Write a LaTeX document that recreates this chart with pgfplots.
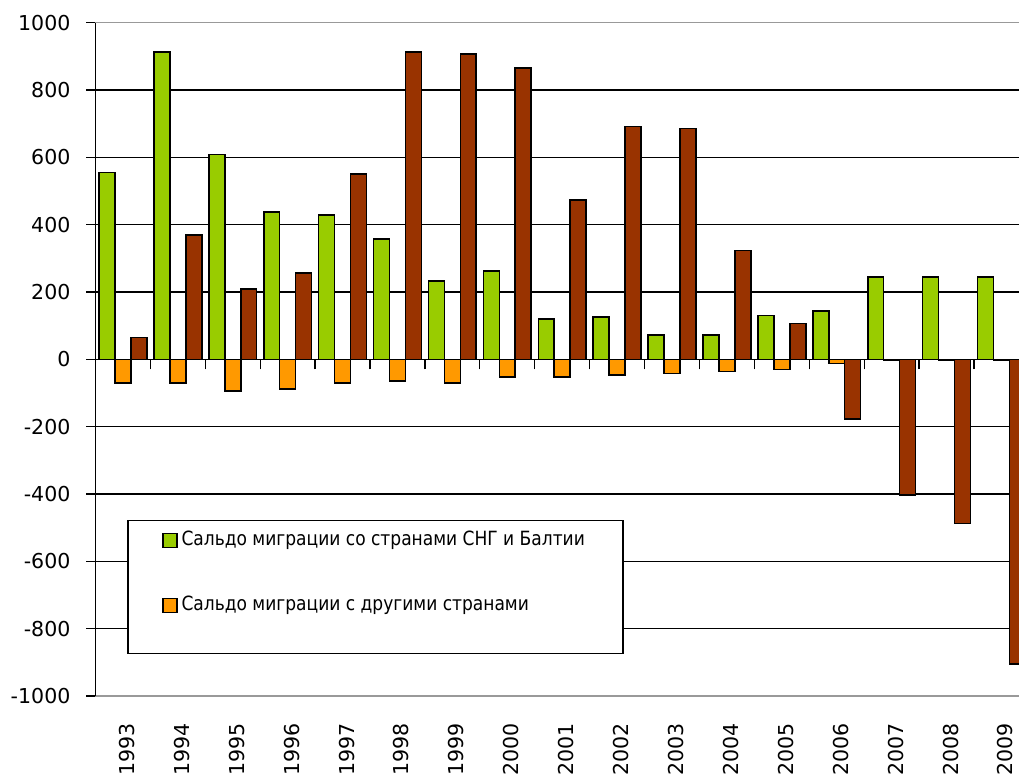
\documentclass[border=0pt]{standalone}
\usepackage{fontspec}
\setmainfont{DejaVu Sans}
\newfontfamily\legfont[FakeStretch=0.87]{DejaVu Sans}
\usepackage{pgfplots}
\pgfplotsset{compat=1.18}
\definecolor{cgreen}{HTML}{99CC00}
\definecolor{corange}{HTML}{FF9900}
\definecolor{cbrown}{HTML}{993300}
\pgfplotsset{
  mylegend/.style={legend image code/.code={\draw[##1, line width=1pt, draw=black] (0pt,-5.25pt) rectangle (10.5pt,5.25pt);}}
}
\begin{document}
\begin{tikzpicture}
\begin{axis}[
  scale only axis, width=692.6pt, height=505pt,
  xmin=-0.5, xmax=16.32, ymin=-1000, ymax=1000,
  axis x line=box, axis y line=left,
  axis line style={-},
  x axis line style={draw=black!40, line width=1pt},
  y axis line style={draw=black, line width=1pt},
  ytick={-1000,-800,-600,-400,-200,0,200,400,600,800,1000},
  yticklabels={-1000,-800,-600,-400,-200,0,200,400,600,800,1000},
  ymajorgrids, grid style={black, line width=1pt},
  tick align=outside, major tick length=6.75pt,
  ytick style={draw=black, line width=1pt},
  xtick pos=left,
  xtick={0,1,2,3,4,5,6,7,8,9,10,11,12,13,14,15,16},
  xticklabels={1993,1994,1995,1996,1997,1998,1999,2000,2001,2002,2003,2004,2005,2006,2007,2008,2009},
  xtick style={draw=none},
  xticklabel style={xshift=3pt, rotate=90, anchor=east, inner sep=0pt},
  xticklabel shift=13.5pt,
  yticklabel style={inner sep=0pt},
  yticklabel shift=11.85pt,
  ticklabel style={font=\fontsize{15.4}{18}\selectfont},
  extra x ticks={-0.5,0.5,1.5,2.5,3.5,4.5,5.5,6.5,7.5,8.5,9.5,10.5,11.5,12.5,13.5,14.5,15.5,16.5},
  extra x tick labels={},
  extra x tick style={major tick length=7.5pt, xtick style={draw=black, line width=1pt, yshift=252.5pt}},
  ybar, bar width=0.29,
  legend style={draw=none, fill=none, at={(axis cs:0.711,-478)}, anchor=north west,
    inner xsep=0pt, inner ysep=7.85pt, row sep=34.75pt, column sep=3pt,
    font=\legfont\fontsize{14.7}{17}\selectfont,
    nodes={inner sep=0pt, text height=11pt, text depth=3pt}},
  legend cell align=left,
]
\addplot[fill=cgreen, draw=black, line width=1.2pt, bar shift=-0.29, mylegend] coordinates {
 (0,555) (1,912) (2,609) (3,437) (4,429) (5,358) (6,233) (7,262) (8,119)
 (9,126) (10,72) (11,72) (12,130) (13,144) (14,244) (15,244) (16,244)};
\addlegendentry{Сальдо миграции со странами СНГ и Балтии}
\addplot[fill=corange, draw=black, line width=1.2pt, bar shift=0, mylegend] coordinates {
 (0,-71) (1,-71) (2,-94) (3,-88) (4,-71) (5,-64) (6,-71) (7,-53) (8,-53)
 (9,-47) (10,-42) (11,-36) (12,-30) (13,-12) (14,-4) (15,-4) (16,-4)};
\addlegendentry{Сальдо миграции с другими странами}
\addplot[fill=cbrown, draw=black, line width=1.2pt, bar shift=0.29, forget plot] coordinates {
 (0,65) (1,369) (2,209) (3,256) (4,550) (5,912) (6,907) (7,865) (8,473)
 (9,692) (10,686) (11,323) (12,107) (13,-178) (14,-403) (15,-487) (16,-905)};
\draw[black, line width=1pt, fill=white] (axis cs:0.092,-478) rectangle (axis cs:9.108,-873);
\coordinate (ll) at (rel axis cs:0,0);
\coordinate (ur) at (rel axis cs:1,1);
\end{axis}
\pgfresetboundingbox
\useasboundingbox ([shift={(-71.6pt,-60pt)}]ll) rectangle ([shift={(0pt,17pt)}]ur);
\end{tikzpicture}
\end{document}
